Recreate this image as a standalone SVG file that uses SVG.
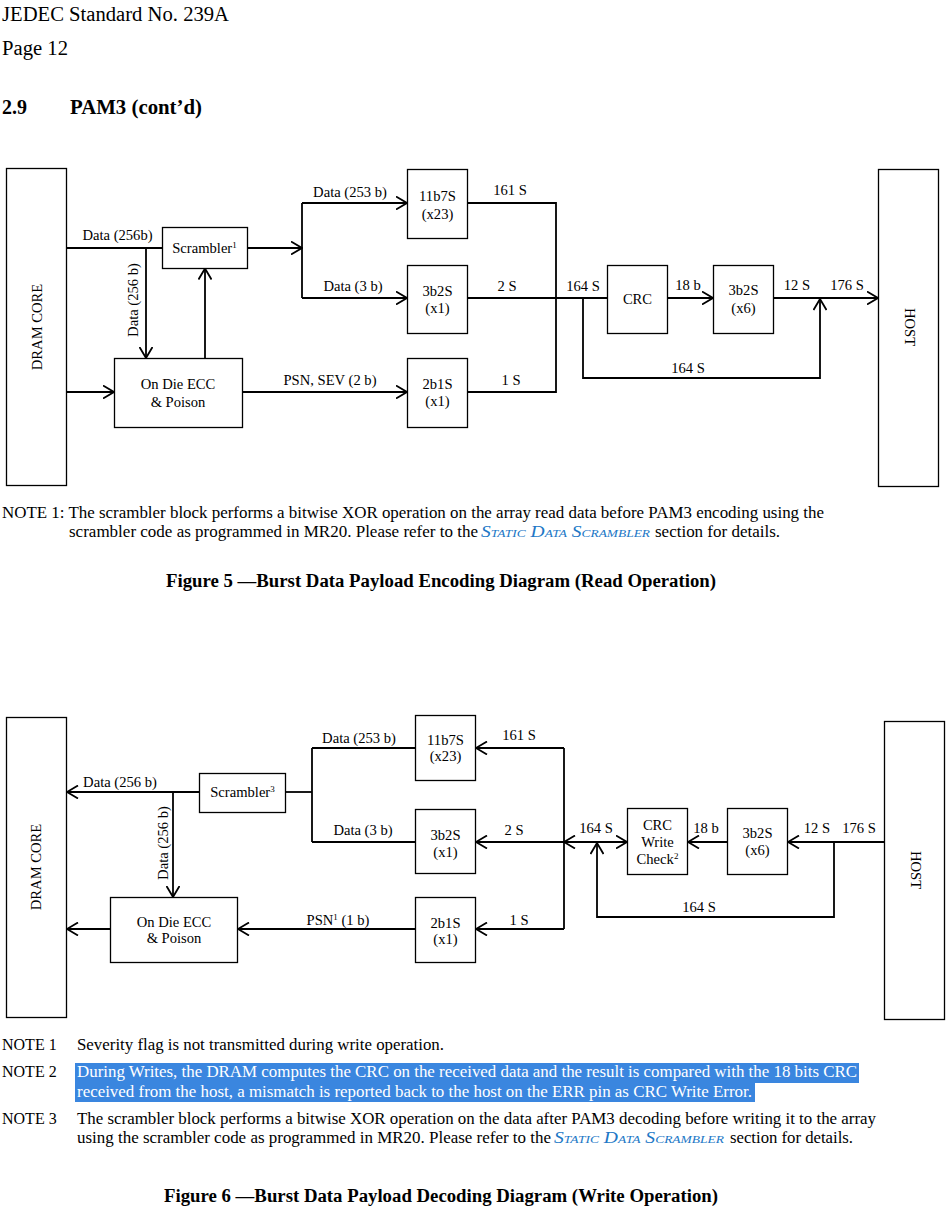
<svg xmlns="http://www.w3.org/2000/svg" width="949" height="1212" viewBox="0 0 949 1212">
<style>
.bg{fill:#fff}
.box{fill:#fff;stroke:#000;stroke-width:1.3}
.ln{fill:none;stroke:#000;stroke-width:1.8}
.lbl{font-family:"Liberation Serif","DejaVu Serif",serif;font-size:14.6px;fill:#000;text-anchor:middle}
.doc{font-family:"Liberation Serif","Times New Roman",serif;font-size:16px;fill:#000}
.hdr{font-family:"Liberation Serif","Times New Roman",serif;font-size:20px;fill:#000}
.bold{font-weight:bold}
.cap{font-family:"Liberation Serif","Times New Roman",serif;font-size:18px;font-weight:bold;fill:#000;text-anchor:middle}
.link{fill:#2177c6;font-style:italic;font-variant:small-caps}
.hl{fill:#3a86df}
</style>
<defs>
<marker id="arr" viewBox="0 0 12 14" refX="11.5" refY="7" markerWidth="12" markerHeight="14" markerUnits="userSpaceOnUse" orient="auto-start-reverse">
<path d="M0.5,0.5 L11.5,7 L0.5,13.5" fill="none" stroke="#000" stroke-width="1.8"/>
</marker>
</defs>
<rect class="bg" x="0" y="0" width="949" height="1212"/>

<!-- page header -->
<g id="header">
<text class="hdr" x="2" y="21" textLength="227" lengthAdjust="spacingAndGlyphs">JEDEC Standard No. 239A</text>
<text class="hdr" x="2" y="55" textLength="66" lengthAdjust="spacingAndGlyphs">Page 12</text>
<text class="hdr bold" x="2" y="114">2.9</text>
<text class="hdr bold" x="70" y="114" textLength="132" lengthAdjust="spacingAndGlyphs">PAM3 (cont’d)</text>
</g>

<!-- ============ Figure 5 ============ -->
<g id="fig5-connectors">
<path class="ln" d="M66.5,248 H162.5"/>
<path class="ln" d="M146,248 V358" marker-end="url(#arr)"/>
<path class="ln" d="M205,358 V268.5" marker-end="url(#arr)"/>
<path class="ln" d="M66.5,392 H114" marker-end="url(#arr)"/>
<path class="ln" d="M247.5,248 H302" marker-end="url(#arr)"/>
<path class="ln" d="M302,203 V298"/>
<path class="ln" d="M302,203 H407" marker-end="url(#arr)"/>
<path class="ln" d="M302,298 H407" marker-end="url(#arr)"/>
<path class="ln" d="M242.5,392 H407" marker-end="url(#arr)"/>
<path class="ln" d="M467.5,203 H556 V392 H467.5"/>
<path class="ln" d="M467.5,298 H607.5"/>
<path class="ln" d="M583,298 V378 H820 V299" marker-end="url(#arr)"/>
<path class="ln" d="M667.5,298 H713" marker-end="url(#arr)"/>
<path class="ln" d="M773.5,298 H878" marker-end="url(#arr)"/>
<text class="lbl" x="117.5" y="240">Data (256b)</text>
<text class="lbl" transform="translate(132.5,300) rotate(-90)" dominant-baseline="central">Data (256 b)</text>
<text class="lbl" x="350" y="197">Data (253 b)</text>
<text class="lbl" x="353" y="291">Data (3 b)</text>
<text class="lbl" x="330" y="385">PSN, SEV (2 b)</text>
<text class="lbl" x="510" y="195">161 S</text>
<text class="lbl" x="507" y="291">2 S</text>
<text class="lbl" x="511" y="385">1 S</text>
<text class="lbl" x="583" y="291">164 S</text>
<text class="lbl" x="688" y="290">18 b</text>
<text class="lbl" x="797" y="290">12 S</text>
<text class="lbl" x="847" y="290">176 S</text>
<text class="lbl" x="688" y="373">164 S</text>
</g>

<g id="fig5-dram">
<rect class="box" x="6.5" y="168.5" width="60" height="317"/>
<text class="lbl" transform="translate(37,327) rotate(-90)" dominant-baseline="central">DRAM CORE</text>
</g>
<g id="fig5-scrambler">
<rect class="box" x="162.5" y="227.5" width="85" height="41"/>
<text class="lbl" x="204.5" y="253">Scrambler<tspan font-size="9" dy="-5">1</tspan></text>
</g>
<g id="fig5-ecc">
<rect class="box" x="114.5" y="358.5" width="128" height="69"/>
<text class="lbl" x="178" y="389">On Die ECC</text>
<text class="lbl" x="178" y="407">&amp; Poison</text>
</g>
<g id="fig5-11b7s">
<rect class="box" x="407.5" y="169.5" width="60" height="69"/>
<text class="lbl" x="437.5" y="201">11b7S</text>
<text class="lbl" x="437.5" y="219">(x23)</text>
</g>
<g id="fig5-3b2s">
<rect class="box" x="407.5" y="265.5" width="60" height="68"/>
<text class="lbl" x="437.5" y="296">3b2S</text>
<text class="lbl" x="437.5" y="313">(x1)</text>
</g>
<g id="fig5-2b1s">
<rect class="box" x="407.5" y="358.5" width="60" height="69"/>
<text class="lbl" x="437.5" y="389">2b1S</text>
<text class="lbl" x="437.5" y="406">(x1)</text>
</g>
<g id="fig5-crc">
<rect class="box" x="607.5" y="265.5" width="60" height="68"/>
<text class="lbl" x="637.5" y="304">CRC</text>
</g>
<g id="fig5-3b2s-x6">
<rect class="box" x="713.5" y="265.5" width="60" height="68"/>
<text class="lbl" x="743.5" y="295">3b2S</text>
<text class="lbl" x="743.5" y="313">(x6)</text>
</g>
<g id="fig5-host">
<rect class="box" x="878.5" y="169.5" width="60" height="317"/>
<text class="lbl" transform="translate(910,327) rotate(90)" dominant-baseline="central">HOST</text>
</g>

<g id="fig5-notes">
<text class="doc" x="2" y="518" textLength="822" lengthAdjust="spacingAndGlyphs">NOTE 1: The scrambler block performs a bitwise XOR operation on the array read data before PAM3 encoding using the</text>
<text class="doc" x="69" y="537" textLength="409" lengthAdjust="spacingAndGlyphs">scrambler code as programmed in MR20. Please refer to the</text>
<text class="doc link" x="481" y="537" textLength="169" lengthAdjust="spacingAndGlyphs">Static Data Scrambler</text>
<text class="doc" x="655" y="537" textLength="125" lengthAdjust="spacingAndGlyphs">section for details.</text>
<text class="cap" x="441" y="587" textLength="550" lengthAdjust="spacingAndGlyphs">Figure 5 —Burst Data Payload Encoding Diagram (Read Operation)</text>
</g>

<!-- ============ Figure 6 ============ -->
<g id="fig6-connectors">
<path class="ln" d="M199.5,792 H67" marker-end="url(#arr)"/>
<path class="ln" d="M173,792 V897" marker-end="url(#arr)"/>
<path class="ln" d="M285.5,792 H312"/>
<path class="ln" d="M312,748 V842"/>
<path class="ln" d="M312,748 H415.5"/>
<path class="ln" d="M312,842 H415.5"/>
<path class="ln" d="M110.5,929 H67" marker-end="url(#arr)"/>
<path class="ln" d="M415.5,929 H238" marker-end="url(#arr)"/>
<path class="ln" d="M564,748 V929"/>
<path class="ln" d="M564,748 H476" marker-end="url(#arr)"/>
<path class="ln" d="M564,842 H476" marker-end="url(#arr)"/>
<path class="ln" d="M564,929 H476" marker-end="url(#arr)"/>
<path class="ln" d="M564,842 H627" marker-start="url(#arr)" marker-end="url(#arr)"/>
<path class="ln" d="M834,842 V917 H597 V843" marker-end="url(#arr)"/>
<path class="ln" d="M884.5,842 H788" marker-end="url(#arr)"/>
<path class="ln" d="M727.5,842 H688" marker-end="url(#arr)"/>
<text class="lbl" x="120" y="787">Data (256 b)</text>
<text class="lbl" transform="translate(162.5,843) rotate(-90)" dominant-baseline="central">Data (256 b)</text>
<text class="lbl" x="359" y="743">Data (253 b)</text>
<text class="lbl" x="363" y="835">Data (3 b)</text>
<text class="lbl" x="338" y="925">PSN<tspan font-size="9" dy="-5">1</tspan><tspan dy="5"> (1 b)</tspan></text>
<text class="lbl" x="519" y="740">161 S</text>
<text class="lbl" x="514" y="835">2 S</text>
<text class="lbl" x="519" y="925">1 S</text>
<text class="lbl" x="596" y="833">164 S</text>
<text class="lbl" x="706" y="833">18 b</text>
<text class="lbl" x="817" y="833">12 S</text>
<text class="lbl" x="859" y="833">176 S</text>
<text class="lbl" x="699" y="912">164 S</text>
</g>

<g id="fig6-dram">
<rect class="box" x="6.5" y="717.5" width="60" height="300"/>
<text class="lbl" transform="translate(36,867) rotate(-90)" dominant-baseline="central">DRAM CORE</text>
</g>
<g id="fig6-scrambler">
<rect class="box" x="199.5" y="773.5" width="86" height="39"/>
<text class="lbl" x="242.5" y="797">Scrambler<tspan font-size="9" dy="-5">3</tspan></text>
</g>
<g id="fig6-ecc">
<rect class="box" x="110.5" y="897.5" width="127" height="65"/>
<text class="lbl" x="174" y="927">On Die ECC</text>
<text class="lbl" x="174" y="943">&amp; Poison</text>
</g>
<g id="fig6-11b7s">
<rect class="box" x="415.5" y="715.5" width="60" height="65"/>
<text class="lbl" x="445.5" y="745">11b7S</text>
<text class="lbl" x="445.5" y="761">(x23)</text>
</g>
<g id="fig6-3b2s">
<rect class="box" x="415.5" y="809.5" width="60" height="64"/>
<text class="lbl" x="445.5" y="840">3b2S</text>
<text class="lbl" x="445.5" y="857">(x1)</text>
</g>
<g id="fig6-2b1s">
<rect class="box" x="415.5" y="897.5" width="60" height="65"/>
<text class="lbl" x="445.5" y="928">2b1S</text>
<text class="lbl" x="445.5" y="944">(x1)</text>
</g>
<g id="fig6-crc">
<rect class="box" x="627.5" y="808.5" width="60" height="66"/>
<text class="lbl" x="657.5" y="830">CRC</text>
<text class="lbl" x="657.5" y="847">Write</text>
<text class="lbl" x="657.5" y="864">Check<tspan font-size="9" dy="-5">2</tspan></text>
</g>
<g id="fig6-3b2s-x6">
<rect class="box" x="727.5" y="808.5" width="60" height="66"/>
<text class="lbl" x="757.5" y="838">3b2S</text>
<text class="lbl" x="757.5" y="855">(x6)</text>
</g>
<g id="fig6-host">
<rect class="box" x="884.5" y="721.5" width="60" height="298"/>
<text class="lbl" transform="translate(916,870) rotate(90)" dominant-baseline="central">HOST</text>
</g>

<g id="fig6-notes">
<text class="doc" x="2" y="1050">NOTE 1</text>
<text class="doc" x="77" y="1050" textLength="367" lengthAdjust="spacingAndGlyphs">Severity flag is not transmitted during write operation.</text>
<text class="doc" x="2" y="1077">NOTE 2</text>
<rect class="hl" x="75" y="1063" width="784" height="20"/>
<rect class="hl" x="75" y="1082" width="680" height="20"/>
<text class="doc" style="fill:#fff" x="77" y="1077" textLength="780" lengthAdjust="spacingAndGlyphs">During Writes, the DRAM computes the CRC on the received data and the result is compared with the 18 bits CRC</text>
<text class="doc" style="fill:#fff" x="77" y="1097" textLength="675" lengthAdjust="spacingAndGlyphs">received from the host, a mismatch is reported back to the host on the ERR pin as CRC Write Error.</text>
<text class="doc" x="2" y="1124">NOTE 3</text>
<text class="doc" x="77" y="1124" textLength="799" lengthAdjust="spacingAndGlyphs">The scrambler block performs a bitwise XOR operation on the data after PAM3 decoding before writing it to the array</text>
<text class="doc" x="77" y="1143" textLength="474" lengthAdjust="spacingAndGlyphs">using the scrambler code as programmed in MR20. Please refer to the</text>
<text class="doc link" x="554" y="1143" textLength="170" lengthAdjust="spacingAndGlyphs">Static Data Scrambler</text>
<text class="doc" x="730" y="1143" textLength="123" lengthAdjust="spacingAndGlyphs">section for details.</text>
<text class="cap" x="441" y="1202" textLength="554" lengthAdjust="spacingAndGlyphs">Figure 6 —Burst Data Payload Decoding Diagram (Write Operation)</text>
</g>
</svg>
